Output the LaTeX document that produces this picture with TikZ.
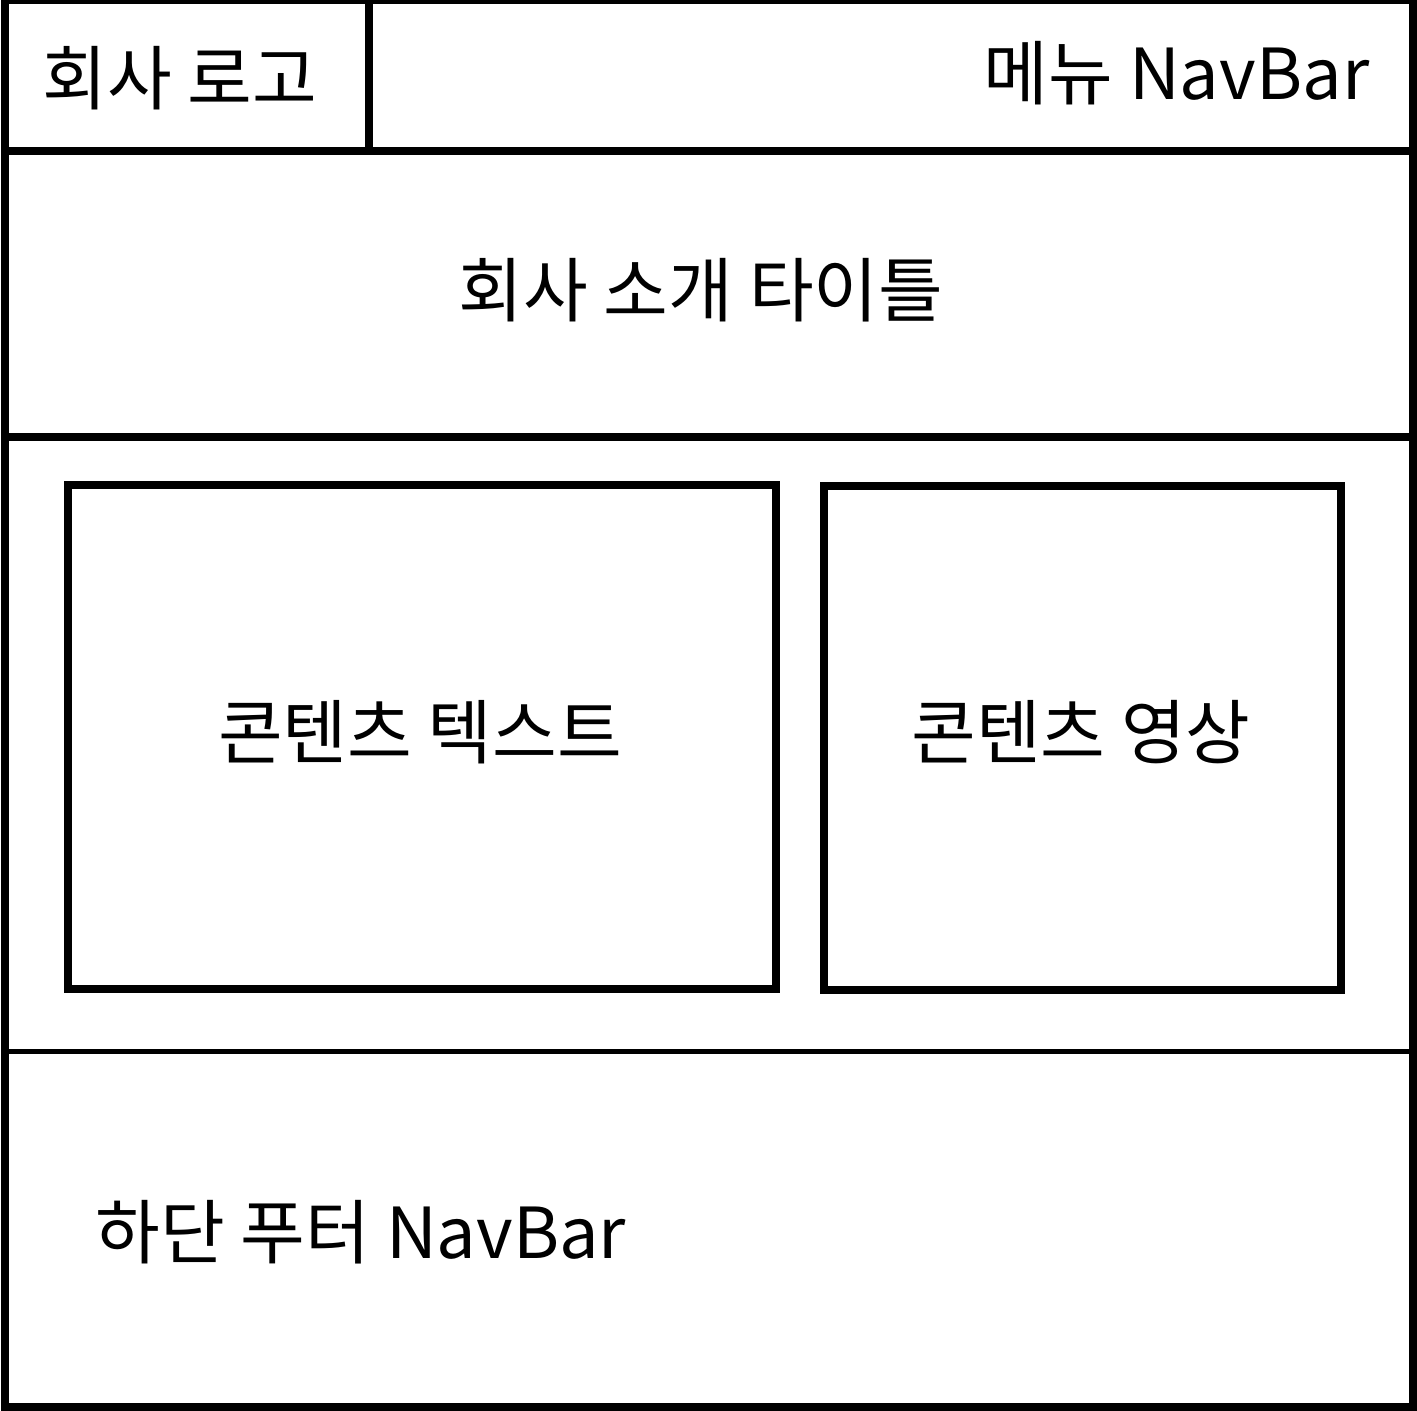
\documentclass[tikz,border=0pt]{standalone}
\usepackage{fontspec}
\setmainfont{Noto Sans CJK KR}

\begin{document}
\begin{tikzpicture}[x=0.01cm, y=-0.01cm,
			mybox/.style={draw, line width=2.28pt, minimum height=5.04cm},
			mylabel/.style={inner sep=0pt, font=\fontsize{20}{24}\selectfont}
		]
		\useasboundingbox (0,0) rectangle (1417,1411);

		\draw[line width=2.28pt] (5,0) rectangle (1413,1407);
		\draw[line width=2.28pt] (5,151) -- (1413,151);
		\draw[line width=2.28pt] (369,0) -- (369,151);
		\draw[line width=2.28pt] (5,437) -- (1413,437);
		\draw[line width=1.42pt] (5,1051.5) -- (1413,1051.5);

		\node[mylabel] (logo) at (180,78) {회사 로고};
		\node[mylabel, anchor=east] (menu) at (1370,73) {메뉴 NavBar};

		\node[mylabel] (title) at (701,290) {회사 소개 타이틀};

		\node[mybox, minimum width=7.08cm] (textbox) at (422,737) {};
		\node[mybox, minimum width=5.17cm] (videobox) at (1082.5,738) {};
		\node[mylabel] (textlabel) at (420,732) {콘텐츠 텍스트};
		\node[mylabel] (videolabel) at (1081,732) {콘텐츠 영상};

		\node[mylabel, anchor=west] (footer) at (95,1232) {하단 푸터 NavBar};
	\end{tikzpicture}
\end{document}
